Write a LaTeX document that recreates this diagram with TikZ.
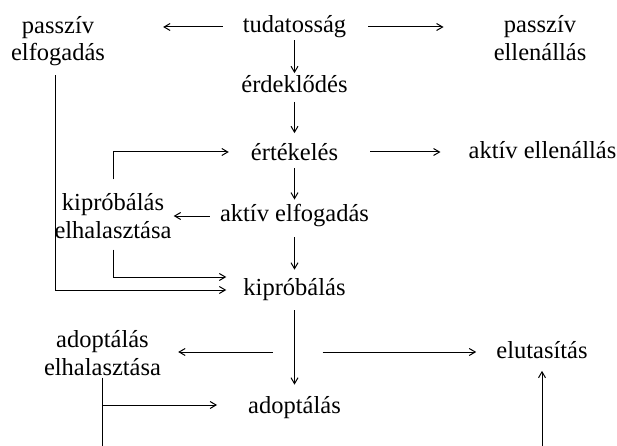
\documentclass[tikz,border=0pt]{standalone}
\usepackage{fontspec}
\setmainfont{Liberation Serif}
\usepackage{tikz}
\usetikzlibrary{arrows.meta,positioning,calc}

\begin{document}
\begin{tikzpicture}[
  x=1pt, y=-1pt,
  stage/.style={inner sep=2pt, font=\fontsize{24.5}{27.5}\selectfont, align=center},
  arr/.style={-{Straight Barb[length=6pt,width=7pt]}, line width=1pt},
  lin/.style={line width=1pt},
]
\useasboundingbox (0,0) rectangle (617,446);

% ===== Main column =====
\node[stage] (tud) at (294.5,27) {tudatosság};
\node[stage] (erd) at (294.5,84) {érdeklődés};
\node[stage] (ert) at (294.5,152) {értékelés};
\node[stage] (ael) at (294.5,216) {aktív elfogadás};
\node[stage] (kip) at (294.5,290) {kipróbálás};
\node[stage] (adop) at (294.5,408) {adoptálás};

% ===== Side outcomes =====
\node[stage] (pe) at (58,41) {passzív\\elfogadás};
\node[stage] (pell) at (540,38) {passzív\\ellenállás};
\node[stage] (aell) at (542.5,150) {aktív ellenállás};
\node[stage] (kel) at (113,216) {kipróbálás\\elhalasztása};
\node[stage] (adel) at (102.5,353) {adoptálás\\elhalasztása};
\node[stage] (elut) at (542,350) {elutasítás};

\coordinate (br) at (294.5,352);
\coordinate (bot) at (0,446);

\draw[arr] (tud) -- (erd);
\draw[arr, shorten <=7pt, shorten >=8pt] (erd) -- (ert);
\draw[arr, shorten <=5pt, shorten >=3pt] (ert) -- (ael);
\draw[arr, shorten <=8pt, shorten >=7pt] (ael) -- (kip);
\draw[arr, shorten <=7pt, shorten >=10pt] (kip) -- (adop);

\draw[arr, shorten <=18pt, shorten >=56pt] (tud.west) -- (tud.west -| pe.east);
\draw[arr, shorten <=20pt, shorten >=48pt] (tud.east) -- (tud.east -| pell.west);
\draw[arr, shorten <=30pt, shorten >=26pt] (ert.east) -- (ert.east -| aell.west);
\draw[arr, shorten <=8pt] (ael.west) -- (ael.west -| kel.east);

% ===== Loops back to the main column =====
\draw[arr, shorten <=12pt, shorten >=20pt] (kel.north) |- (ert.west);
\draw[arr, shorten <=9pt, shorten >=15pt] (kel.south) |- ([yshift=13pt]kip.west);
\draw[arr, shorten <=7pt, shorten >=15pt] ([xshift=-3pt]pe.south) |- (kip.west);

% ===== Adoption branch =====
\draw[arr, shorten <=22pt, shorten >=15pt] (br) -- (br -| adel.east);
\draw[arr, shorten <=28pt, shorten >=18pt] (br) -- (br -| elut.west);
\draw[lin] (adel.south) -- (adel.south |- bot);
\draw[arr, shorten >=29pt] ([yshift=3pt]adel.south |- adop.west) -- ([yshift=3pt]adop.west);
\draw[arr, shorten >=10pt] (elut.south |- bot) -- (elut.south);

\end{tikzpicture}
\end{document}
